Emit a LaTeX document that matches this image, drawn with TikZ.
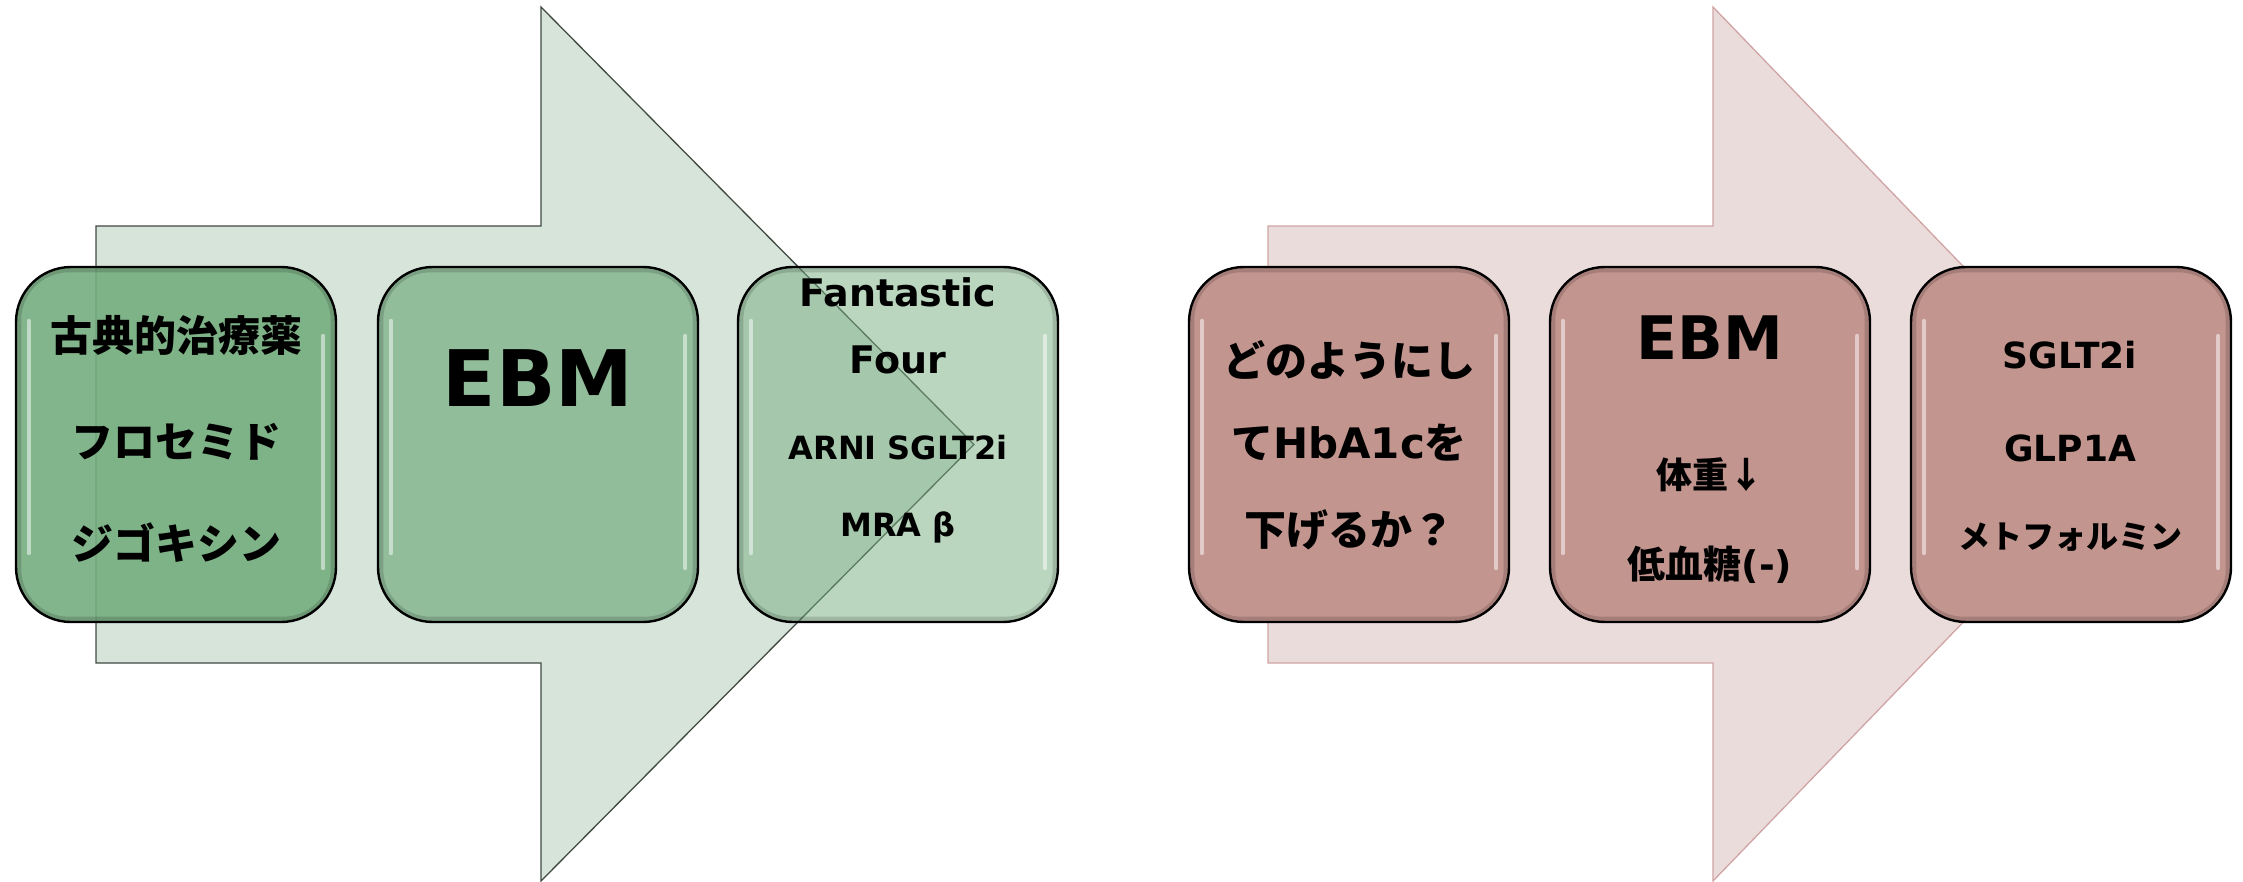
\documentclass[tikz,border=0pt]{standalone}
\usepackage{fontspec}
\newfontfamily\jp{Noto Sans CJK JP}
\newfontfamily\lat{DejaVu Sans}
\definecolor{garrow}{HTML}{D6E4DA}
\definecolor{garrowline}{HTML}{404A43}
\definecolor{gbox}{HTML}{75AD7F}
\definecolor{parrow}{HTML}{EBDCDC}
\definecolor{parrowline}{HTML}{D0A4A4}
\definecolor{pbox}{HTML}{C3958F}
\tikzset{
  bigarrow/.style={line width=1.3pt, line join=miter},
  card/.style={rounded corners=55pt, draw=black, line width=2.4pt,
    minimum width=320pt, minimum height=355pt, inner sep=0pt},
  rim/.style={draw=black, opacity=0.15, line width=5pt, rounded corners=50pt},
  gloss/.style={draw=white, opacity=0.5, line width=4pt, line cap=round},
  lbl/.style={inner sep=0pt, anchor=center, text=black},
  jpA/.style={lbl, font=\jp\bfseries\fontsize{42}{42}\selectfont},
  jpB/.style={lbl, font=\jp\bfseries\fontsize{36}{36}\selectfont},
  jpC/.style={lbl, font=\jp\bfseries\fontsize{32}{32}\selectfont},
  latA/.style={lbl, font=\lat\bfseries\fontsize{32}{32}\selectfont},
  latB/.style={lbl, font=\lat\bfseries\fontsize{38}{38}\selectfont},
  latC/.style={lbl, font=\lat\bfseries\fontsize{36}{36}\selectfont},
}
\begin{document}
\begin{tikzpicture}[x=1pt,y=-1pt]
\useasboundingbox (0,0) rectangle (2243,882);
% ---------- green arrow ----------
\draw[bigarrow, fill=garrow, draw=garrowline]
  (96,226) -- (541,226) -- (541,7) -- (974,444.5) -- (541,881) -- (541,663) -- (96,663) -- cycle;
% ---------- pink arrow ----------
\draw[bigarrow, fill=parrow, draw=parrowline]
  (1268,226) -- (1713,226) -- (1713,7) -- (2135,444.5) -- (1713,881) -- (1713,663) -- (1268,663) -- cycle;
% ---------- green cards ----------
\node[card, fill=gbox, fill opacity=0.9] (g1) at (176,444.5) {};
\node[card, fill=gbox, fill opacity=0.7] (g2) at (538,444.5) {};
\node[card, fill=gbox, fill opacity=0.5] (g3) at (898,444.5) {};
% ---------- pink cards ----------
\node[card, fill=pbox] (p1) at (1349,444.5) {};
\node[card, fill=pbox] (p2) at (1710,444.5) {};
\node[card, fill=pbox] (p3) at (2071,444.5) {};
% ---------- rim shading and gloss highlights ----------
\foreach \c in {g1,g2,g3,p1,p2,p3}{
  \draw[rim] ([xshift=4pt,yshift=-4pt]\c.north west) rectangle ([xshift=-4pt,yshift=4pt]\c.south east);
  \draw[gloss] ([xshift=14pt,yshift=-55pt]\c.north west) -- ([xshift=14pt,yshift=70pt]\c.south west);
  \draw[gloss] ([xshift=-14pt,yshift=-70pt]\c.north east) -- ([xshift=-14pt,yshift=55pt]\c.south east);
}
% ---------- texts: green ----------
\node[jpA] (t11) at (176,335) {古典的治療薬};
\node[jpA] (t12) at (176,442) {フロセミド};
\node[jpA] (t13) at (176,543) {ジゴキシン};
\node[lbl, font=\lat\bfseries\fontsize{78}{78}\selectfont] (t21) at (538,378) {EBM};
\node[latB] (t31) at (898,292) {Fantastic};
\node[latB] (t32) at (898,360) {Four};
\node[latA] (t33) at (898,448) {ARNI SGLT2i};
\node[latA] (t34) at (898,527) {MRA β};
% ---------- texts: pink ----------
\node[jpA] (t41) at (1349,360) {どのようにし};
\node[lbl, font=\bfseries\fontsize{42}{42}\selectfont] (t42) at (1349,443) {{\jp て}{\lat HbA1c}{\jp を}};
\node[jpA] (t43) at (1349,530) {下げるか？};
\node[lbl, font=\lat\bfseries\fontsize{60}{60}\selectfont] (t51) at (1710,338) {EBM};
\node[jpB] (t52) at (1710,475) {体重↓};
\node[lbl, font=\bfseries\fontsize{38}{38}\selectfont] (t53) at (1710,565) {{\jp 低血糖}{\lat (-)}};
\node[latC] (t61) at (2070,355) {SGLT2i};
\node[latC] (t62) at (2070,448) {GLP1A};
\node[jpC] (t63) at (2070,537) {メトフォルミン};
\end{tikzpicture}
\end{document}
